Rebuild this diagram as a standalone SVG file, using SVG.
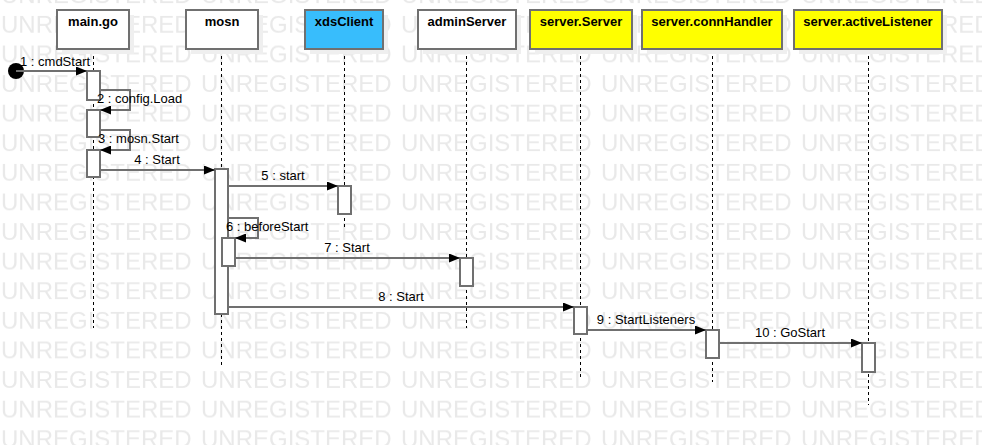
<svg xmlns="http://www.w3.org/2000/svg" width="982" height="445" viewBox="0 0 982 445">
<defs>
<pattern id="wm" patternUnits="userSpaceOnUse" x="1" y="-18.6" width="200" height="29.6">
<text x="0" y="22" font-family="Liberation Sans, Arial, sans-serif" font-size="24" fill="#e9e9e9">UNREGISTERED</text>
</pattern>
<marker id="ah" viewBox="0 0 11 9" refX="11" refY="4.5" markerWidth="11" markerHeight="9" markerUnits="userSpaceOnUse" orient="auto">
<path d="M0,0 L11,4.5 L0,9 Z" fill="#000"/>
</marker>
</defs>
<style>
.hdr{stroke:#707070;stroke-width:2}
.shd{fill:#efefef}
.ht{font-family:"Liberation Sans",Arial,sans-serif;font-size:13px;font-weight:bold;fill:#000;text-anchor:middle}
.ll{stroke:#000;stroke-width:1;stroke-dasharray:3,3;fill:none}
.act{fill:#fff;stroke:#707070;stroke-width:2}
.msg{stroke:#707070;stroke-width:2;fill:none;marker-end:url(#ah)}
.ml{font-family:"Liberation Sans",Arial,sans-serif;font-size:13px;fill:#000}
.mc{text-anchor:middle}
</style>
<rect width="982" height="445" fill="#fff"/>
<rect width="982" height="445" fill="url(#wm)"/>

<g id="lifelines">
<line class="ll" x1="93.5" y1="50" x2="93.5" y2="328"/>
<line class="ll" x1="221.5" y1="50" x2="221.5" y2="365"/>
<line class="ll" x1="344.5" y1="50" x2="344.5" y2="227"/>
<line class="ll" x1="466.5" y1="50" x2="466.5" y2="328"/>
<line class="ll" x1="580.5" y1="50" x2="580.5" y2="377"/>
<line class="ll" x1="712.5" y1="50" x2="712.5" y2="382"/>
<line class="ll" x1="868.5" y1="50" x2="868.5" y2="405"/>
</g>

<g id="main.go">
<rect class="shd" x="62" y="15" width="72" height="39"/>
<rect class="hdr" x="57" y="10" width="72" height="39" fill="#fff"/>
<text class="ht" x="93" y="26">main.go</text>
<rect class="act" x="87" y="71" width="13" height="29"/>
<rect class="act" x="87" y="110" width="13" height="27"/>
<rect class="act" x="87" y="150" width="13" height="27"/>
</g>
<g id="mosn">
<rect class="shd" x="191" y="15" width="72" height="39"/>
<rect class="hdr" x="186" y="10" width="72" height="39" fill="#fff"/>
<text class="ht" x="222" y="26">mosn</text>
<rect class="act" x="215" y="169" width="13" height="145"/>
<rect class="act" x="222" y="238" width="13" height="28"/>
</g>
<g id="xdsClient">
<rect class="shd" x="310" y="15" width="78" height="39"/>
<rect class="hdr" x="305" y="10" width="78" height="39" fill="#38bdfc"/>
<text class="ht" x="344" y="26">xdsClient</text>
<rect class="act" x="338" y="186" width="13" height="28"/>
</g>
<g id="adminServer">
<rect class="shd" x="423" y="15" width="98" height="39"/>
<rect class="hdr" x="418" y="10" width="98" height="39" fill="#fff"/>
<text class="ht" x="467" y="26">adminServer</text>
<rect class="act" x="460" y="258" width="13" height="28"/>
</g>
<g id="server.Server">
<rect class="shd" x="535" y="15" width="102" height="39"/>
<rect class="hdr" x="530" y="10" width="102" height="39" fill="#ffff00"/>
<text class="ht" x="581" y="26">server.Server</text>
<rect class="act" x="574" y="307" width="13" height="27"/>
</g>
<g id="server.connHandler">
<rect class="shd" x="647" y="15" width="140" height="39"/>
<rect class="hdr" x="642" y="10" width="140" height="39" fill="#ffff00"/>
<text class="ht" x="712" y="26">server.connHandler</text>
<rect class="act" x="706" y="330" width="13" height="28"/>
</g>
<g id="server.activeListener">
<rect class="shd" x="799" y="15" width="148" height="39"/>
<rect class="hdr" x="794" y="10" width="148" height="39" fill="#ffff00"/>
<text class="ht" x="868" y="26">server.activeListener</text>
<rect class="act" x="862" y="343" width="13" height="29"/>
</g>

<g id="connectors">
<circle cx="16" cy="71" r="8" fill="#000"/>
<line class="msg" x1="16" y1="71" x2="87" y2="71"/>
<text class="ml" x="20" y="66">1 : cmdStart</text>
<polyline class="msg" points="100,90 130,90 130,110 100,110"/>
<text class="ml" x="97" y="103">2 : config.Load</text>
<polyline class="msg" points="100,130 130,130 130,150 100,150"/>
<text class="ml" x="98" y="143">3 : mosn.Start</text>
<line class="msg" x1="100" y1="170" x2="215" y2="170"/>
<text class="ml mc" x="157" y="164">4 : Start</text>
<line class="msg" x1="228" y1="186" x2="338" y2="186"/>
<text class="ml mc" x="283" y="180">5 : start</text>
<polyline class="msg" points="228,218 258,218 258,238 235,238"/>
<text class="ml" x="226" y="231">6 : beforeStart</text>
<line class="msg" x1="235" y1="258" x2="460" y2="258"/>
<text class="ml mc" x="347" y="252">7 : Start</text>
<line class="msg" x1="228" y1="307" x2="574" y2="307"/>
<text class="ml mc" x="401" y="301">8 : Start</text>
<line class="msg" x1="587" y1="330" x2="706" y2="330"/>
<text class="ml mc" x="646" y="324">9 : StartListeners</text>
<line class="msg" x1="719" y1="343" x2="862" y2="343"/>
<text class="ml mc" x="790" y="337">10 : GoStart</text>
</g>
</svg>
